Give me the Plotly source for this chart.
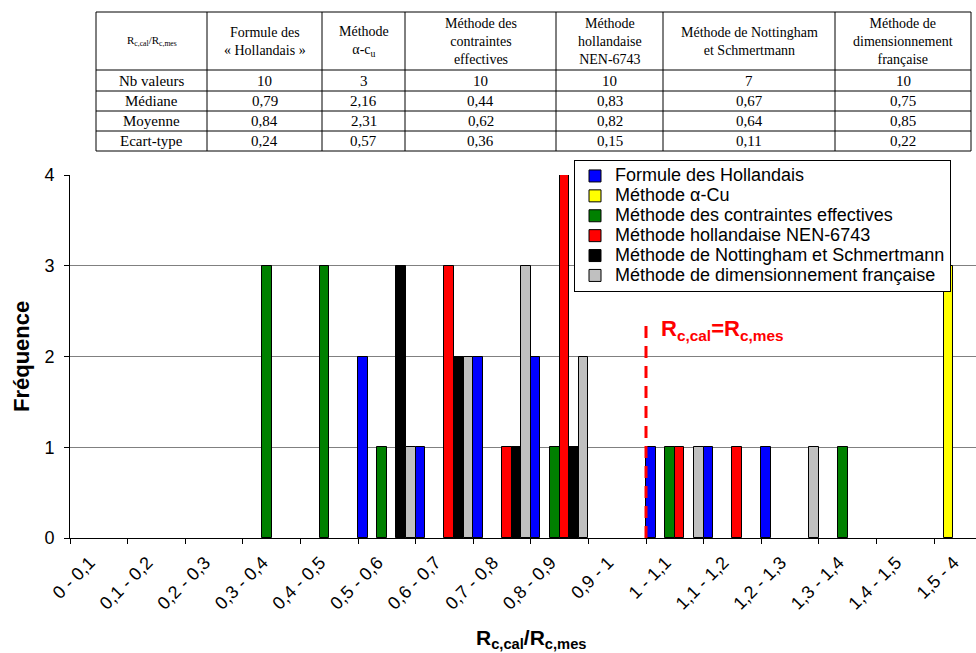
import plotly.graph_objects as go

# ---------------- data ----------------
categories = ["0 - 0,1", "0,1 - 0,2", "0,2 - 0,3", "0,3 - 0,4", "0,4 - 0,5",
              "0,5 - 0,6", "0,6 - 0,7", "0,7 - 0,8", "0,8 - 0,9", "0,9 - 1",
              "1 - 1,1", "1,1 - 1,2", "1,2 - 1,3", "1,3 - 1,4", "1,4 - 1,5", "1,5 - 4"]

series_names = ["Formule des Hollandais", "Méthode α-Cu",
                "Méthode des contraintes effectives", "Méthode hollandaise NEN-6743",
                "Méthode de Nottingham et Schmertmann",
                "Méthode de dimensionnement française"]
series_colors = ["#0000FF", "#FFFF00", "#008000", "#FF0000", "#000000", "#C0C0C0"]

hollandais  = [0, 0, 0, 0, 0, 2, 1, 2, 2, 0, 1, 1, 1, 0, 0, 0]
alpha_cu    = [0, 0, 0, 0, 0, 0, 0, 0, 0, 0, 0, 0, 0, 0, 0, 3]
contraintes = [0, 0, 0, 3, 3, 1, 0, 0, 1, 0, 1, 0, 0, 1, 0, 0]
nen_6743    = [0, 0, 0, 0, 0, 0, 3, 1, 4, 0, 1, 1, 0, 0, 0, 0]
nottingham  = [0, 0, 0, 0, 0, 3, 2, 1, 1, 0, 0, 0, 0, 0, 0, 0]
francaise   = [0, 0, 0, 0, 0, 1, 2, 3, 2, 0, 1, 0, 1, 0, 0, 0]

y_ticks = [0, 1, 2, 3, 4]
ref_category = "1 - 1,1"   # R_c,cal = R_c,mes boundary (left edge of this class)

# summary table
table_header = ["R<sub>c,cal</sub>/R<sub>c,mes</sub>",
                "Formule des<br>« Hollandais »",
                "Méthode<br>α-c<sub>u</sub>",
                "Méthode des<br>contraintes<br>effectives",
                "Méthode<br>hollandaise<br>NEN-6743",
                "Méthode de Nottingham<br>et Schmertmann",
                "Méthode de<br>dimensionnement<br>française"]
row_labels = ["Nb valeurs", "Médiane", "Moyenne", "Ecart-type"]
nb_valeurs = ["10", "3", "10", "10", "7", "10"]
mediane    = ["0,79", "2,16", "0,44", "0,83", "0,67", "0,75"]
moyenne    = ["0,84", "2,31", "0,62", "0,82", "0,64", "0,85"]
ecart_type = ["0,24", "0,57", "0,36", "0,15", "0,11", "0,22"]

# ---------------- layout geometry (pixels) ----------------
W, H = 976, 653
ML, MR, MT, MB = 70, 0, 175, 115
PW, PH = W - ML - MR, H - MT - MB
CAT_PX = 57.6
table_col_edges = [96, 207, 322, 405, 556, 663, 835, 971]
table_row_edges = [12, 70, 91, 111, 131, 151]

def px_x(p):
    return (p - ML) / PW

def px_y(p):
    return (H - MB - p) / PH

SANS = "Arial, Liberation Sans, sans-serif"
SERIF = "Times New Roman, Liberation Serif, serif"
LEGEND_TEXT_PX = 18

fig = go.Figure()
all_series = [hollandais, alpha_cu, contraintes, nen_6743, nottingham, francaise]
for name, color, vals in zip(series_names, series_colors, all_series):
    fig.add_trace(go.Bar(
        x=categories, y=[v if v else None for v in vals],
        name=f'<span style="font-size:{LEGEND_TEXT_PX}px">{name}</span>',
        marker=dict(color=color, line=dict(color="#000000", width=1)),
    ))

# reference line R_c,cal = R_c,mes
ref_x = categories.index(ref_category) - 0.5
fig.add_shape(type="line", xref="x", yref="y", x0=ref_x, x1=ref_x, y0=0, y1=2.42,
              line=dict(color="#FF0000", width=3, dash="12px,8px"))
fig.add_annotation(xref="x", yref="y", x=ref_x + 0.22, y=2.29, xanchor="left",
                   yanchor="middle", showarrow=False,
                   text="<b>R<sub>c,cal</sub>=R<sub>c,mes</sub></b>",
                   font=dict(family=SANS, size=22, color="#FF0000"))

# axis titles
fig.add_annotation(xref="paper", yref="paper", x=px_x(531), y=px_y(639),
                   xanchor="center", yanchor="middle", showarrow=False,
                   text="<b>R<sub>c,cal</sub>/R<sub>c,mes</sub></b>",
                   font=dict(family=SANS, size=21, color="#000000"))
fig.add_annotation(xref="paper", yref="paper", x=px_x(21), y=px_y(357),
                   xanchor="center", yanchor="middle", showarrow=False,
                   textangle=-90, text="<b>Fréquence</b>",
                   font=dict(family=SANS, size=22, color="#000000"))

# ---------------- summary table (shapes + annotations) ----------------
x0t, x1t = table_col_edges[0], table_col_edges[-1]
y0t, y1t = table_row_edges[0], table_row_edges[-1]
for yy in table_row_edges:
    fig.add_shape(type="line", xref="paper", yref="paper",
                  x0=px_x(x0t), x1=px_x(x1t), y0=px_y(yy), y1=px_y(yy),
                  line=dict(color="#000000", width=1))
for xx in table_col_edges:
    fig.add_shape(type="line", xref="paper", yref="paper",
                  x0=px_x(xx), x1=px_x(xx), y0=px_y(y0t), y1=px_y(y1t),
                  line=dict(color="#000000", width=1))

def cell_text(col, row, text, size):
    cx = (table_col_edges[col] + table_col_edges[col + 1]) / 2
    cy = (table_row_edges[row] + table_row_edges[row + 1]) / 2
    fig.add_annotation(xref="paper", yref="paper", x=px_x(cx), y=px_y(cy),
                       xanchor="center", yanchor="middle", showarrow=False,
                       align="center", text=text,
                       font=dict(family=SERIF, size=size, color="#000000"))

for c, t in enumerate(table_header):
    cell_text(c, 0, t, 11 if c == 0 else 14)
for r, (lab, vals) in enumerate(zip(row_labels, [nb_valeurs, mediane, moyenne, ecart_type])):
    cell_text(0, r + 1, lab, 15)
    for c, v in enumerate(vals):
        cell_text(c + 1, r + 1, v, 15)

# ---------------- layout ----------------
n_visible = PW / CAT_PX
fig.update_layout(
    width=W, height=H,
    margin=dict(l=ML, r=MR, t=MT, b=MB, pad=0),
    paper_bgcolor="#FFFFFF", plot_bgcolor="#FFFFFF",
    barmode="group", bargap=0, bargroupgap=0,
    font=dict(family=SANS, color="#000000"),
    showlegend=True,
    legend=dict(x=px_x(574), y=px_y(160), xanchor="left", yanchor="top",
                bgcolor="#FFFFFF", bordercolor="#000000", borderwidth=1,
                font=dict(family=SANS, size=13, color="#000000"),
                traceorder="normal", itemwidth=30),
    xaxis=dict(type="category", categoryorder="array", categoryarray=categories,
               range=[-0.5, -0.5 + n_visible], showgrid=False,
               showline=True, linecolor="#000000", linewidth=1,
               ticks="outside", tickson="boundaries", ticklen=5, tickcolor="#000000",
               tickangle=-45, ticklabelstandoff=6, ticklabelshift=-9,
               tickfont=dict(family=SANS, size=18, color="#000000")),
    yaxis=dict(range=[0, 4], tickvals=y_ticks, showgrid=True, gridcolor="#808080",
               gridwidth=1, showline=True, linecolor="#000000", linewidth=1,
               ticks="outside", ticklen=5, tickcolor="#000000", zeroline=False,
               ticklabelstandoff=6,
               tickfont=dict(family=SANS, size=18, color="#000000")),
)

fig.write_html("out.html", config={"displayModeBar": False},
               post_script="document.body.style.margin='0';"
                           "document.body.style.overflow='hidden';")
